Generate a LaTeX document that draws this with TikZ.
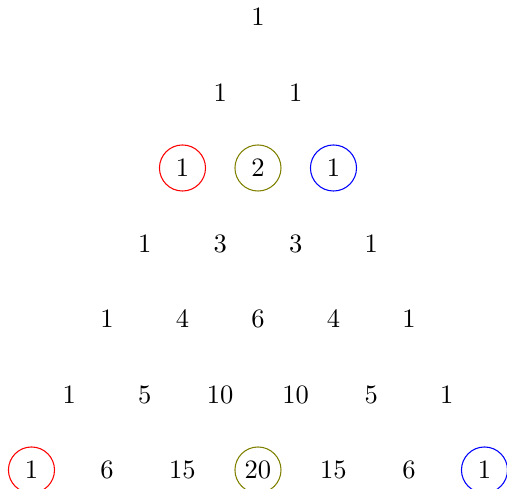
\documentclass[tikz,border=0pt]{standalone}
\usepackage{xcolor}
\definecolor{ringolive}{RGB}{128, 128, 0}
\usepackage{tikz}
\usetikzlibrary{positioning}

\begin{document}
\begin{tikzpicture}[x=1cm, y=1cm]
    \useasboundingbox (-3.417, 0.225) rectangle (3.298, -6.239);
    \foreach \n in {0,...,6} {
        \foreach \k in {0,...,\n} {
            \pgfmathtruncatemacro\entry{\n!/(\k!*(\n-\k)!)}
            \node (p-\n-\k) at ({\k-\n/2}, -\n) {\entry};
        }
    }
    \draw[red] (p-2-0) circle (0.305);
    \draw[ringolive] (p-2-1) circle (0.305);
    \draw[blue] (p-2-2) circle (0.305);
    \draw[red] (p-6-0) circle (0.305);
    \draw[ringolive] (p-6-3) circle (0.305);
    \draw[blue] (p-6-6) circle (0.305);
\end{tikzpicture}
\end{document}
